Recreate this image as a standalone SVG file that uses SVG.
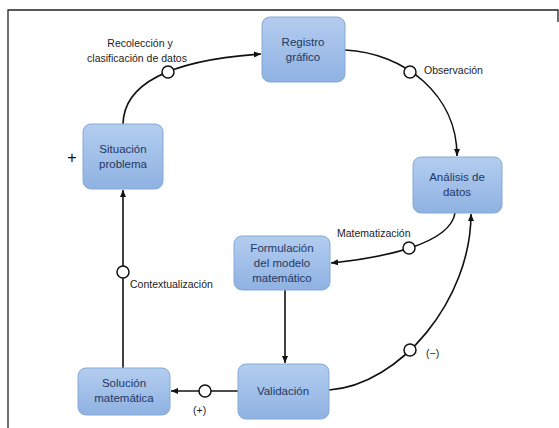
<svg xmlns="http://www.w3.org/2000/svg" width="559" height="428" viewBox="0 0 559 428">
<style>
.box{fill:url(#g);stroke:#86a9d6;stroke-width:1}
.nt{font-family:"Liberation Sans",Arial,sans-serif;font-size:11.5px;fill:#1f3763;text-anchor:middle}
.lb{font-family:"Liberation Sans",Arial,sans-serif;font-size:10.5px;fill:#222;}
.pl{font-family:"Liberation Sans",Arial,sans-serif;font-size:16px;fill:#111;text-anchor:middle}
.c{fill:none;stroke:#111;stroke-width:1.6}
.k{fill:#fff;stroke:#111;stroke-width:1.5}
</style>
<defs>
<linearGradient id="g" x1="0" y1="0" x2="0" y2="1">
<stop offset="0" stop-color="#b3cdef"/>
<stop offset="1" stop-color="#8fb2e2"/>
</linearGradient>
<marker id="a" markerWidth="8" markerHeight="8" refX="7" refY="4" orient="auto" markerUnits="userSpaceOnUse">
<path d="M0,1 L7,4 L0,7 Z" fill="#111"/>
</marker>
</defs>
<rect width="559" height="428" fill="#fff"/>
<path d="M8,428 V10 H558 V22" fill="none" stroke="#222" stroke-width="1.3"/>

<g id="connectors">
<path class="c" d="M123,124 C124,82 172,60 261,54" marker-end="url(#a)"/>
<circle class="k" cx="168" cy="72" r="6"/>
<path class="c" d="M345,50 C405,53 457,95 457,156" marker-end="url(#a)"/>
<circle class="k" cx="410" cy="72" r="6"/>
<path class="c" d="M455,213 C450,245 380,258 331,263" marker-end="url(#a)"/>
<circle class="k" cx="409" cy="248" r="6"/>
<path class="c" d="M285,290 V363" marker-end="url(#a)"/>
<path class="c" d="M329,390 C400,385 471,300 471,214" marker-end="url(#a)"/>
<circle class="k" cx="410" cy="350" r="6"/>
<path class="c" d="M238,391 H171" marker-end="url(#a)"/>
<circle class="k" cx="205" cy="391" r="6"/>
<path class="c" d="M123,368 V190" marker-end="url(#a)"/>
<circle class="k" cx="123" cy="272" r="6"/>
<text class="lb" x="140" y="47" text-anchor="middle">Recolección y</text>
<text class="lb" x="137" y="62" text-anchor="middle">clasificación de datos</text>
<text class="lb" x="424" y="74">Observación</text>
<text class="lb" x="337" y="237">Matematización</text>
<text class="lb" x="130" y="288">Contextualización</text>
<text class="lb" x="426" y="357">(−)</text>
<text class="lb" x="193" y="414">(+)</text>
<text class="pl" x="72" y="163">+</text>
</g>

<g id="registro">
<rect class="box" x="262" y="17" width="83" height="65" rx="8"/>
<text class="nt" x="303" y="46">Registro</text>
<text class="nt" x="303" y="61">gráfico</text>
</g>
<g id="situacion">
<rect class="box" x="83" y="124" width="80" height="65" rx="8"/>
<text class="nt" x="123" y="153">Situación</text>
<text class="nt" x="123" y="168">problema</text>
</g>
<g id="analisis">
<rect class="box" x="413" y="157" width="89" height="56" rx="8"/>
<text class="nt" x="457" y="181">Análisis de</text>
<text class="nt" x="457" y="196">datos</text>
</g>
<g id="formulacion">
<rect class="box" x="234" y="236" width="96" height="54" rx="8"/>
<text class="nt" x="282" y="252">Formulación</text>
<text class="nt" x="282" y="267">del modelo</text>
<text class="nt" x="282" y="282">matemático</text>
</g>
<g id="validacion">
<rect class="box" x="238" y="364" width="91" height="55" rx="8"/>
<text class="nt" x="283" y="395">Validación</text>
</g>
<g id="solucion">
<rect class="box" x="78" y="368" width="92" height="47" rx="8"/>
<text class="nt" x="124" y="387">Solución</text>
<text class="nt" x="124" y="402">matemática</text>
</g>
</svg>
